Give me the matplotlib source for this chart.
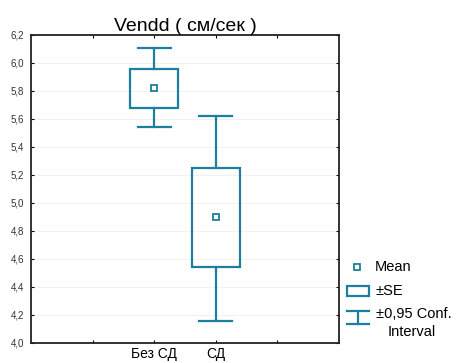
import matplotlib
matplotlib.use("Agg")
import matplotlib.pyplot as plt
from matplotlib.patches import Rectangle
from matplotlib.lines import Line2D
from matplotlib.ticker import FuncFormatter

plt.rcParams["font.family"] = ["Liberation Sans", "DejaVu Sans"]

groups = ["Без СД", "СД"]
means = [5.82, 4.90]
se_low = [5.68, 4.54]
se_high = [5.96, 5.25]
ci_low = [5.54, 4.16]
ci_high = [6.105, 5.62]
yticks = [4.0, 4.2, 4.4, 4.6, 4.8, 5.0, 5.2, 5.4, 5.6, 5.8, 6.0, 6.2]

teal = "#1b7f9e"
W, H = 458, 363

fig = plt.figure(figsize=(W / 100, H / 100), dpi=100)
ax = fig.add_axes([31 / W, 1 - 343 / H, 308 / W, 308 / H])

xpos = [2, 3]
box_w = 0.78
cap_w = 0.54
for x, m, lo, hi, cl, ch in zip(xpos, means, se_low, se_high, ci_low, ci_high):
    ax.add_patch(Rectangle((x - box_w / 2, lo), box_w, hi - lo, fill=False,
                           edgecolor=teal, lw=1.6, zorder=3))
    ax.plot([x, x], [hi, ch], color=teal, lw=1.6, zorder=3)
    ax.plot([x, x], [cl, lo], color=teal, lw=1.6, zorder=3)
    ax.plot([x - cap_w / 2, x + cap_w / 2], [ch, ch], color=teal, lw=1.6, zorder=3)
    ax.plot([x - cap_w / 2, x + cap_w / 2], [cl, cl], color=teal, lw=1.6, zorder=3)
    ax.plot([x], [m], marker="s", ms=4, mfc="white", mec=teal, mew=1.3, zorder=4)

ax.set_xlim(0, 5)
ax.set_ylim(4.0, 6.2)
ax.set_yticks(yticks)
ax.yaxis.set_major_formatter(FuncFormatter(lambda v, p: f"{v:.1f}".replace(".", ",")))
ax.set_xticks([1, 2, 3, 4])
ax.set_xticklabels(["", groups[0], groups[1], ""])
ax.tick_params(axis="y", labelsize=7, length=2, direction="in", right=True, pad=5)
ax.tick_params(axis="x", labelsize=10, length=2, direction="in", top=True, pad=3)
for lab in ax.get_yticklabels():
    lab.set_color("#333333")
ax.grid(axis="y", color="#eeeeee", lw=0.6)
for s in ax.spines.values():
    s.set_linewidth(1.3)
    s.set_color("#222222")

ax.set_title("Vendd ( см/сек )", fontsize=14, pad=3)

# legend drawn by hand in pixel coordinates
def fx(px):
    return px / W

def fy(py):
    return 1 - py / H

fig.add_artist(Line2D([fx(357)], [fy(267)], ls="none", marker="s", ms=4,
                      mfc="white", mec=teal, mew=1.3, transform=fig.transFigure))
fig.text(fx(375), fy(267), "Mean", fontsize=10.5, va="center", ha="left")

fig.add_artist(Rectangle((fx(347), fy(296)), fx(369) - fx(347), fy(286) - fy(296),
                         fill=False, edgecolor=teal, lw=1.6, transform=fig.transFigure))
fig.text(fx(375), fy(291), "±SE", fontsize=10.5, va="center", ha="left")

for seg in [((347, 369), (311, 311)), ((347, 369), (324, 324)), ((358, 358), (311, 324))]:
    fig.add_artist(Line2D([fx(v) for v in seg[0]], [fy(v) for v in seg[1]],
                          color=teal, lw=1.6, transform=fig.transFigure))
fig.text(fx(376), fy(314), "±0,95 Conf.", fontsize=10.5, va="center", ha="left")
fig.text(fx(412), fy(332), "Interval", fontsize=10.5, va="center", ha="center")

fig.savefig("out.png", dpi=100)
